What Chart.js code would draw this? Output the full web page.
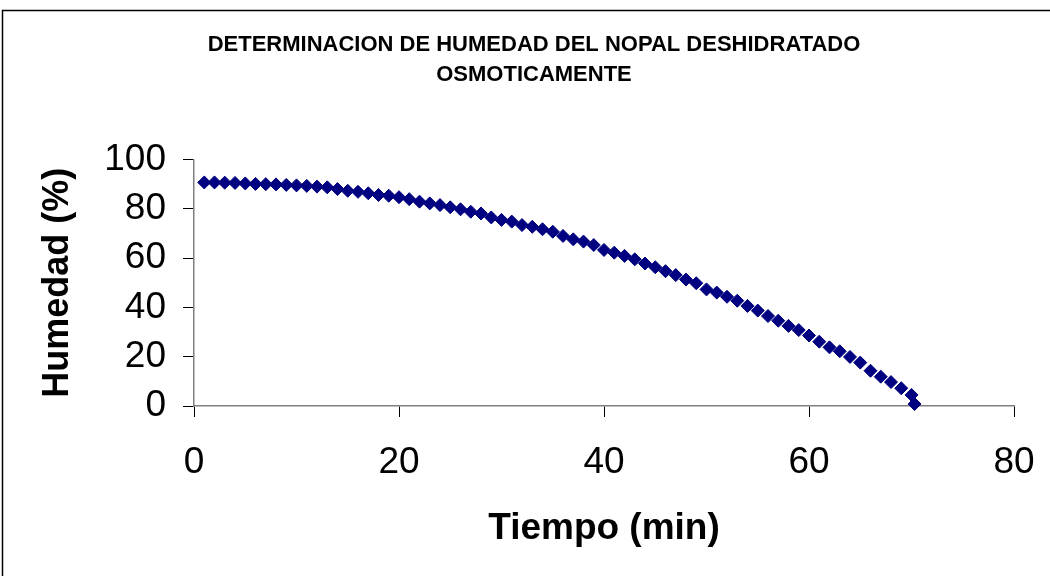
<!DOCTYPE html>
<html>
<head>
<meta charset="utf-8">
<script src="https://cdn.jsdelivr.net/npm/chart.js@4.4.1/dist/chart.umd.min.js"></script>
<style>
  html, body { margin: 0; padding: 0; background: #fff; }
  #wrap { position: relative; width: 1050px; height: 576px; }
</style>
</head>
<body>
<div id="wrap"><canvas id="chart" width="1050" height="576"></canvas></div>
<script>
// Tiempo de deshidratación (min)
const tiempo = [
  1, 2, 3, 4, 5, 6, 7, 8, 9, 10,
  11, 12, 13, 14, 15, 16, 17, 18, 19, 20,
  21, 22, 23, 24, 25, 26, 27, 28, 29, 30,
  31, 32, 33, 34, 35, 36, 37, 38, 39, 40,
  41, 42, 43, 44, 45, 46, 47, 48, 49, 50,
  51, 52, 53, 54, 55, 56, 57, 58, 59, 60,
  61, 62, 63, 64, 65, 66, 67, 68, 69, 70, 70.3
];
// Humedad del nopal (%)
const humedad = [
  90.7, 90.7, 90.6, 90.5, 90.3, 90.1, 90.0, 89.9, 89.7, 89.5,
  89.3, 89.0, 88.7, 88.0, 87.3, 86.9, 86.3, 85.6, 85.3, 84.7,
  83.9, 82.9, 82.2, 81.5, 80.6, 79.8, 78.8, 78.1, 76.5, 75.5,
  74.8, 73.4, 72.7, 71.7, 70.7, 69.0, 67.6, 66.7, 65.3, 63.3,
  62.2, 60.9, 59.5, 57.8, 56.3, 54.7, 53.1, 51.3, 49.8, 47.3,
  46.0, 44.3, 42.7, 40.6, 38.7, 36.5, 34.6, 32.5, 30.8, 28.6,
  26.1, 23.8, 22.2, 19.9, 17.6, 14.3, 11.9, 9.7, 7.2, 4.5, 0.8
];
const xTicks = [0, 20, 40, 60, 80];
const yTicks = [0, 20, 40, 60, 80, 100];
const tituloLineas = ['DETERMINACION DE HUMEDAD DEL NOPAL DESHIDRATADO', 'OSMOTICAMENTE'];

const FONT = "'Liberation Sans', Arial, sans-serif";

// Frame lines and two-line title drawn on the canvas
const marcoTitulo = {
  id: 'marcoTitulo',
  beforeDraw(chart) {
    const ctx = chart.ctx;
    ctx.save();
    ctx.fillStyle = '#fff';
    ctx.fillRect(0, 0, chart.width, chart.height);
    ctx.strokeStyle = '#000';
    ctx.lineWidth = 1.5;
    ctx.beginPath();
    ctx.moveTo(2.5, chart.height);
    ctx.lineTo(2.5, 10.5);
    ctx.lineTo(chart.width, 10.5);
    ctx.stroke();
    ctx.fillStyle = '#000';
    ctx.font = 'bold 22px ' + FONT;
    ctx.textAlign = 'center';
    ctx.textBaseline = 'middle';
    ctx.fillText(tituloLineas[0], 534, 45);
    ctx.fillText(tituloLineas[1], 534, 75);
    ctx.restore();
  }
};

new Chart(document.getElementById('chart'), {
  type: 'scatter',
  data: {
    datasets: [{
      data: tiempo.map((t, i) => ({ x: t, y: humedad[i] })),
      pointStyle: 'rectRot',
      pointRadius: 6.5,
      pointHoverRadius: 6.5,
      backgroundColor: '#000080',
      borderColor: '#000080',
      borderWidth: 1,
      showLine: false,
      clip: false
    }]
  },
  options: {
    responsive: false,
    animation: false,
    events: [],
    layout: { padding: { left: 0, right: 36, top: 159.5, bottom: 0 } },
    plugins: {
      legend: { display: false },
      title: { display: false },
      tooltip: { enabled: false }
    },
    scales: {
      x: {
        type: 'linear',
        min: 0, max: 80,
        afterBuildTicks: s => { s.ticks = xTicks.map(v => ({ value: v })); },
        afterFit: s => { s.height = 170; s.paddingLeft = 0; s.paddingRight = 0; },
        grid: { display: true, drawOnChartArea: false, drawTicks: true, tickLength: 11, tickColor: '#000', tickWidth: 1 },
        border: { display: true, color: '#808080', width: 1.5 },
        ticks: { color: '#000', padding: 24, font: { family: FONT, size: 37 }, maxRotation: 0 },
        title: {
          display: true, text: 'Tiempo (min)', color: '#000',
          font: { family: FONT, size: 37, weight: 'bold' },
          padding: { top: 0, bottom: 25 }
        }
      },
      y: {
        type: 'linear',
        min: 0, max: 100,
        afterBuildTicks: s => { s.ticks = yTicks.map(v => ({ value: v })); },
        afterFit: s => { s.width = 194; s.paddingTop = 0; s.paddingBottom = 0; },
        grid: { display: true, drawOnChartArea: false, drawTicks: true, tickLength: 11, tickColor: '#000', tickWidth: 1 },
        border: { display: true, color: '#808080', width: 1.5 },
        ticks: { color: '#000', padding: 17, font: { family: FONT, size: 37 } },
        title: {
          display: true, text: 'Humedad (%)', color: '#000',
          font: { family: FONT, size: 36, weight: 'bold' },
          padding: { top: 36, bottom: 0 }
        }
      }
    }
  },
  plugins: [marcoTitulo]
});
</script>
</body>
</html>
